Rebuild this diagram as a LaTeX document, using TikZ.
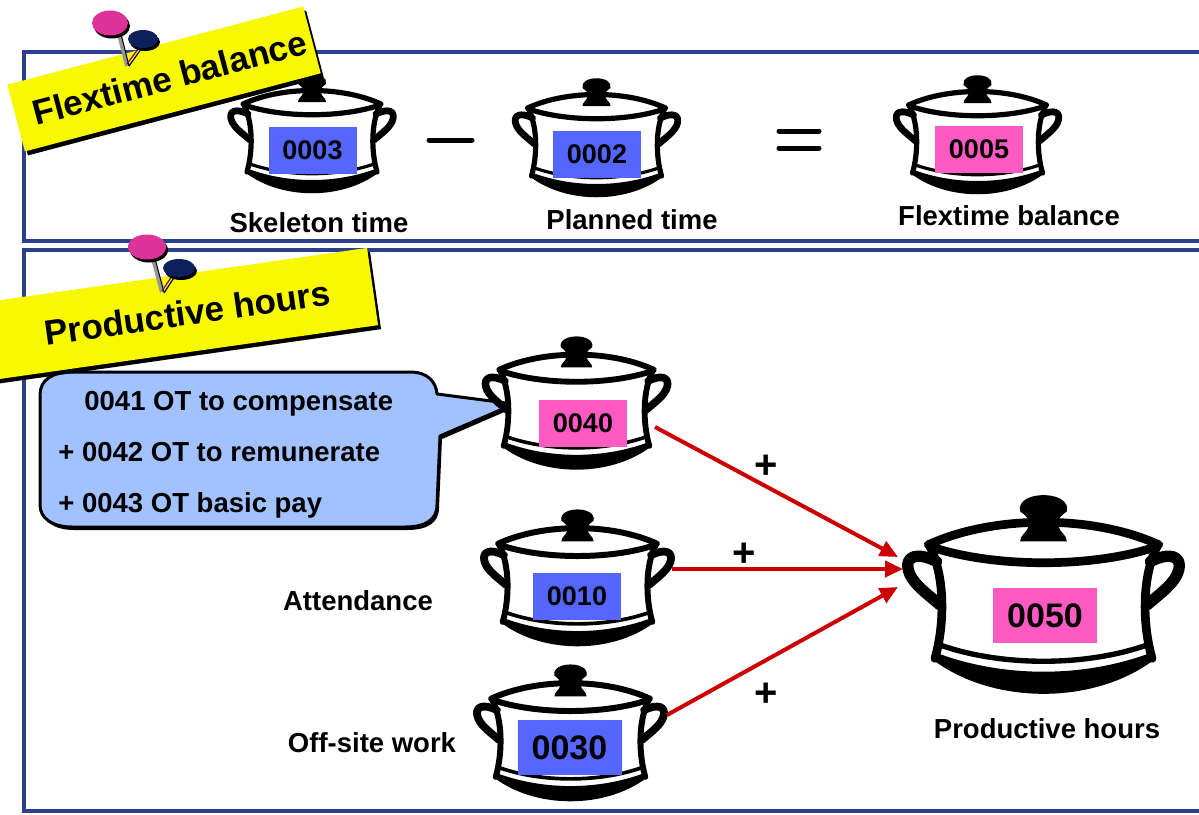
\documentclass[tikz,border=0pt]{standalone}
\usepackage{fontspec}
\setmainfont{Liberation Sans}
\usetikzlibrary{arrows.meta}
\definecolor{panelnavy}{RGB}{43,63,140}
\definecolor{banneryellow}{RGB}{248,248,0}
\definecolor{tagblue}{RGB}{85,102,255}
\definecolor{tagpink}{RGB}{255,90,195}
\definecolor{calloutblue}{RGB}{162,194,255}
\definecolor{pinpink}{RGB}{221,51,153}
\definecolor{pinnavy}{RGB}{12,32,92}
\definecolor{flowred}{RGB}{204,0,0}
\definecolor{needlegray}{RGB}{150,150,150}

\tikzset{
  % cooking pot drawn in pixel-like units, origin at top of the knob
  pics/pot/.style={code={
    \begin{scope}[scale=#1, line width=#1*2.6pt, line join=round, line cap=round]
      \fill[white] (-68,31) .. controls (-25,14) and (25,14) .. (68,31)
         .. controls (60,50) and (60,78) .. (66,99)
         .. controls (30,126) and (-30,126) .. (-66,99)
         .. controls (-60,78) and (-60,50) .. (-68,31) -- cycle;
      % handles
      \draw[line width=#1*3.4pt] (-64,41) .. controls (-76,35) and (-83,38) .. (-81,46)
            .. controls (-79,54) and (-70,60) .. (-62,67);
      \draw[line width=#1*3.4pt] (64,41) .. controls (76,35) and (83,38) .. (81,46)
            .. controls (79,54) and (70,60) .. (62,67);
      % sides
      \draw (-68,32) .. controls (-59,50) and (-59,78) .. (-65,99);
      \draw (68,32) .. controls (59,50) and (59,78) .. (65,99);
      % lid
      \draw (-69,31) .. controls (-30,13) and (30,13) .. (69,31);
      \draw (-68,32) .. controls (-30,45) and (30,45) .. (68,32);
      % base
      \draw[line width=#1*1.6pt] (-62,91) .. controls (-25,104) and (25,104) .. (62,91);
      \fill (-66,95) .. controls (-25,111) and (25,111) .. (66,95) -- (66,100)
            .. controls (30,127) and (-30,127) .. (-66,100) -- cycle;
      % knob
      \fill (-14,11) .. controls (-17,-2) and (17,-2) .. (14,11)
            .. controls (10,14) and (9,15) .. (9,18) -- (9,20)
            .. controls (10,24) and (14,25) .. (14,29) -- (-14,29)
            .. controls (-14,25) and (-10,24) .. (-9,20) -- (-9,18)
            .. controls (-9,15) and (-10,14) .. (-14,11) -- cycle;
    \end{scope}
  }},
  panel/.style={draw=panelnavy, line width=1.6pt},
  lbl/.style={font=\fontsize{13.75}{16}\selectfont\bfseries, inner sep=0pt},
  tag/.style={minimum width=44pt, minimum height=23.5pt, inner sep=0pt,
              font=\fontsize{13.5}{16}\selectfont\bfseries},
  bigtag/.style={minimum width=52pt, minimum height=27.5pt, inner sep=0pt,
              font=\fontsize{17}{20}\selectfont\bfseries},
  banner/.style={fill=banneryellow, inner sep=0pt,
              font=\fontsize{17.5}{20}\selectfont\bfseries},
  bannershadow/.style={fill=black, inner sep=0pt},
  flow/.style={draw=flowred, line width=2pt,
              -{Triangle[length=9pt, width=8pt]}},
  plus/.style={font=\fontsize{20}{22}\selectfont\bfseries, inner sep=0pt},
  opsign/.style={line width=2.5pt, line cap=round},
  callout/.style={draw=black, line width=1.5pt, fill=calloutblue, line join=round},
}

\begin{document}
\begin{tikzpicture}[x=0.5pt, y=-0.5pt]
\useasboundingbox (0,0) rectangle (1199,814);
\clip (0,0) rectangle (1199,814);

% panels
\draw[panel] (24,52) rectangle (1220,241);
\draw[panel] (24,250) rectangle (1220,811);

% ---------- flextime balance ----------
\pic (pot3) at (312,73) {pot=1};
\pic (pot2) at (596.5,77) {pot=1};
\pic (pot5) at (977.5,74) {pot=1};
\node[tag, fill=tagblue] (t3) at (312.5,150) {0003};
\node[tag, fill=tagblue] (t2) at (597,154) {0002};
\node[tag, fill=tagpink] (t5) at (979,149.5) {0005};
\node[lbl, anchor=base] (lSkel) at (319,232) {Skeleton time};
\node[lbl, anchor=base] (lPlan) at (632,229) {Planned time};
\node[lbl, anchor=base] (lFlex) at (1009,225) {Flextime balance};

% minus and equals
\coordinate (m1) at (429,140); \coordinate (m2) at (472,140);
\draw[opsign] (m1) -- (m2);
\coordinate (e1) at (779,131); \coordinate (e2) at (819,131);
\coordinate (e3) at (779,148); \coordinate (e4) at (819,148);
\draw[opsign] (e1) -- (e2);
\draw[opsign] (e3) -- (e4);

% ---------- productive hours ----------
% speech bubble
\fill[black, shift={(2,3)}] (72,372) -- (410,372) .. controls (428,372) and (436,382) .. (437,394)
   -- (514,404) -- (440,436) -- (437,505) .. controls (437,520) and (425,527) .. (405,527)
   -- (72,527) .. controls (52,527) and (40,518) .. (40,505) -- (40,395)
   .. controls (40,380) and (52,372) .. (72,372) -- cycle;
\path[callout] (72,372) -- (410,372) .. controls (428,372) and (436,382) .. (437,394)
   -- (514,404) -- (440,436) -- (437,505) .. controls (437,520) and (425,527) .. (405,527)
   -- (72,527) .. controls (52,527) and (40,518) .. (40,505) -- (40,395)
   .. controls (40,380) and (52,372) .. (72,372) -- cycle;
\node[lbl, anchor=base west] (c1) at (84,410) {0041 OT to compensate};
\node[lbl, anchor=base west] (c2) at (58,461) {+ 0042 OT to remunerate};
\node[lbl, anchor=base west] (c3) at (58,512) {+ 0043 OT basic pay};

\pic (pot40) at (576.5,335) {pot=1.12};
\pic (pot10) at (577.5,508) {pot=1.15};
\pic (pot30) at (570.5,663) {pot=1.15};
\pic (pot50) at (1043.5,493) {pot=1.67};
\node[tag, fill=tagpink] (t40) at (583,423.5) {0040};
\node[tag, fill=tagblue] (t10) at (577,596.5) {0010};
\node[bigtag, fill=tagblue] (t30) at (569.5,747.5) {0030};
\node[bigtag, fill=tagpink] (t50) at (1045,615.5) {0050};

\node[lbl, anchor=base] (lAtt) at (358,610) {Attendance};
\node[lbl, anchor=base] (lOff) at (372,752) {Off-site work};
\node[lbl, anchor=base] (lProd) at (1047,738) {Productive hours};

% flows into the productive hours pot
\coordinate (o40) at (655,427);
\coordinate (o10) at (672,569);
\coordinate (o30) at (667,715);
\coordinate (i40) at (898,557);
\coordinate (i10) at (903,569);
\coordinate (i30) at (898,587);
\draw[flow] (o40) -- (i40);
\draw[flow] (o10) -- (i10);
\draw[flow] (o30) -- (i30);
\node[plus] (p40) at (766,467) {+};
\node[plus] (p10) at (744,555) {+};
\node[plus] (p30) at (766,695) {+};

% ---------- banners ----------
\node[bannershadow, rotate=14.8, minimum width=153pt, minimum height=34.5pt] (b1s) at (167,83) {};
\node[banner, rotate=14.8, minimum width=153pt, minimum height=34.5pt] (b1) at (164,79) {\hspace{6pt}Flextime balance};
\node[bannershadow, rotate=8.1, minimum width=195pt, minimum height=39pt] (b2s) at (182.5,318) {};
\node[banner, rotate=8.1, minimum width=195pt, minimum height=39pt] (b2) at (179.5,314) {\hspace{8pt}Productive hours};

% pins on the first banner
\draw[needlegray, line width=2pt] (118,30) -- (127,66);
\draw[black, line width=0.5pt] (120,30) -- (129,66);
\draw[black, line width=0.6pt] (144,45) -- (129,66);
\draw[violet, line width=0.6pt] (141,45) -- (127,64);
\fill[black] (112,26) ellipse [x radius=18, y radius=12.5];
\fill[pinpink] (110,23) ellipse [x radius=18, y radius=12.5];
\fill[black] (145,42) ellipse [x radius=15, y radius=9];
\fill[pinnavy] (143,39) ellipse [x radius=15, y radius=9];

% pins on the second banner
\draw[needlegray, line width=2pt] (152,255) -- (162,292);
\draw[black, line width=0.5pt] (154,255) -- (164,292);
\draw[black, line width=0.6pt] (177,273) -- (164,293);
\draw[violet, line width=0.6pt] (174,273) -- (162,291);
\fill[black] (149,250) ellipse [x radius=19, y radius=12.5];
\fill[pinpink] (147,247) ellipse [x radius=19, y radius=12.5];
\fill[black] (181,271) ellipse [x radius=16, y radius=9];
\fill[pinnavy] (179,268) ellipse [x radius=16, y radius=9];
\end{tikzpicture}
\end{document}
